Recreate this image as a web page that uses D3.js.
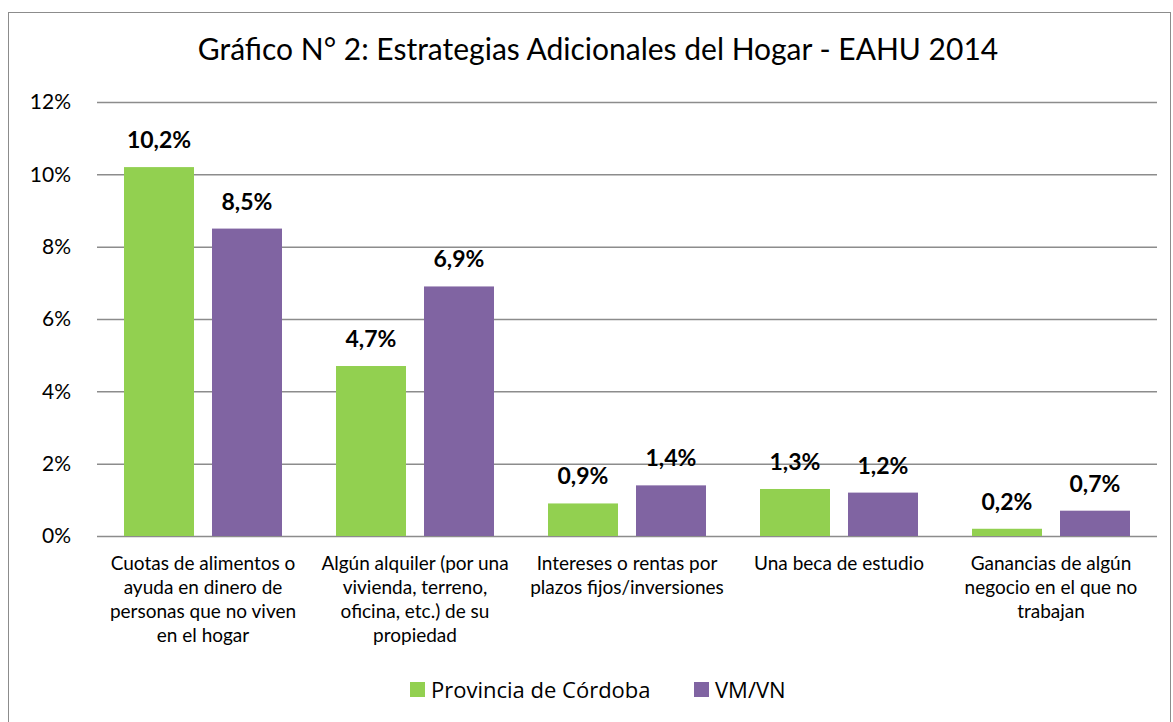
<!DOCTYPE html>
<html>
<head>
<meta charset="utf-8">
<script src="https://cdn.jsdelivr.net/npm/d3@7"></script>
<style>
  body { margin: 0; background: #fff; }
  svg { display: block; }
  .tick text { font-family: Lato, "Open Sans", sans-serif; }
</style>
</head>
<body>
<div id="chart"></div>
<script>
// data
var categories = [
    ["Cuotas de alimentos o", "ayuda en dinero de", "personas que no viven", "en el hogar"],
    ["Algún alquiler (por una", "vivienda, terreno,", "oficina, etc.) de su", "propiedad"],
    ["Intereses o rentas por", "plazos fijos/inversiones"],
    ["Una beca de estudio"],
    ["Ganancias de algún", "negocio en el que no", "trabajan"]
];
var seriesNames = ["Provincia de Córdoba", "VM/VN"];
var cordoba = [10.2, 4.7, 0.9, 1.3, 0.2];
var vmvn = [8.5, 6.9, 1.4, 1.2, 0.7];
var yTicks = [0, 2, 4, 6, 8, 10, 12];
var colors = ["#92d050", "#8064a2"];

var width = 1173, height = 722;
var plotLeft = 97, plotRight = 1157, plotTop = 102, plotBottom = 536;

var svg = d3.select("#chart").append("svg")
    .attr("width", width)
    .attr("height", height);

// outer frame
svg.append("rect")
    .attr("x", 8.5).attr("y", 12.5)
    .attr("width", 1162).attr("height", 730)
    .attr("fill", "#fff")
    .attr("stroke", "#8c8c8c");

svg.append("text")
    .attr("x", 598).attr("y", 60)
    .attr("text-anchor", "middle")
    .style("font-family", "Lato, 'Open Sans', sans-serif")
    .style("font-size", "30px")
    .text("Gráfico N° 2: Estrategias Adicionales del Hogar - EAHU 2014");

var y = d3.scaleLinear().domain([0, 12]).range([plotBottom, plotTop]);
var x0 = d3.scaleBand().domain(d3.range(categories.length)).range([plotLeft, plotRight]);
var x1 = d3.scaleBand().domain(d3.range(seriesNames.length))
    .range([27, 185]).paddingInner(18 / 88);

// gridlines
svg.append("g")
    .selectAll("line")
    .data(yTicks)
    .enter().append("line")
    .attr("x1", plotLeft).attr("x2", plotRight)
    .attr("y1", function(d) { return y(d) + 0.5; })
    .attr("y2", function(d) { return y(d) + 0.5; })
    .attr("stroke", "#8c8c8c")
    .attr("stroke-width", 1.5);

// y axis labels
var yAxis = d3.axisLeft(y).tickValues(yTicks).tickSize(0).tickPadding(0)
    .tickFormat(function(d) { return d + "%"; });
svg.append("g")
    .attr("transform", "translate(71,0)")
    .call(yAxis)
    .call(function(g) { g.select(".domain").remove(); })
    .selectAll("text")
    .style("font-size", "21px")
    .attr("fill", "#000");

var rows = categories.map(function(c, i) { return [cordoba[i], vmvn[i]]; });

var groups = svg.append("g")
    .selectAll("g")
    .data(rows)
    .enter().append("g")
    .attr("transform", function(d, i) { return "translate(" + x0(i) + ",0)"; });

groups.selectAll("rect")
    .data(function(d) { return d; })
    .enter().append("rect")
    .attr("x", function(d, j) { return x1(j); })
    .attr("y", function(d) { return y(d); })
    .attr("width", x1.bandwidth())
    .attr("height", function(d) { return y(0) - y(d); })
    .attr("fill", function(d, j) { return colors[j]; });

groups.selectAll("text.val")
    .data(function(d) { return d; })
    .enter().append("text")
    .attr("class", "val")
    .attr("x", function(d, j) { return x1(j) + x1.bandwidth() / 2; })
    .attr("y", function(d) { return y(d) - 19; })
    .attr("text-anchor", "middle")
    .style("font-family", "Lato, 'Open Sans', sans-serif")
    .style("font-weight", "bold")
    .style("font-size", "23px")
    .text(function(d) { return d.toFixed(1).replace(".", ",") + "%"; });

// category labels
svg.append("g")
    .selectAll("text")
    .data(categories)
    .enter().append("text")
    .attr("x", function(d, i) { return x0(i) + x0.bandwidth() / 2; })
    .attr("y", 570)
    .attr("text-anchor", "middle")
    .style("font-family", "Lato, 'Open Sans', sans-serif")
    .style("font-size", "19px")
    .each(function(d) {
        var t = d3.select(this);
        d.forEach(function(line, k) {
            t.append("tspan")
                .attr("x", t.attr("x"))
                .attr("dy", k === 0 ? 0 : 24)
                .text(line);
        });
    });

// legend
var legendX = [410, 694];
var legend = svg.append("g")
    .selectAll("g")
    .data(seriesNames)
    .enter().append("g")
    .attr("transform", function(d, i) { return "translate(" + legendX[i] + ",682)"; });
legend.append("rect")
    .attr("width", 15).attr("height", 15)
    .attr("fill", function(d, i) { return colors[i]; });
legend.append("text")
    .attr("x", 21).attr("y", 16)
    .style("font-family", "'Open Sans', 'Noto Sans', sans-serif")
    .style("font-size", "22px")
    .text(function(d) { return d; });
</script>
</body>
</html>
